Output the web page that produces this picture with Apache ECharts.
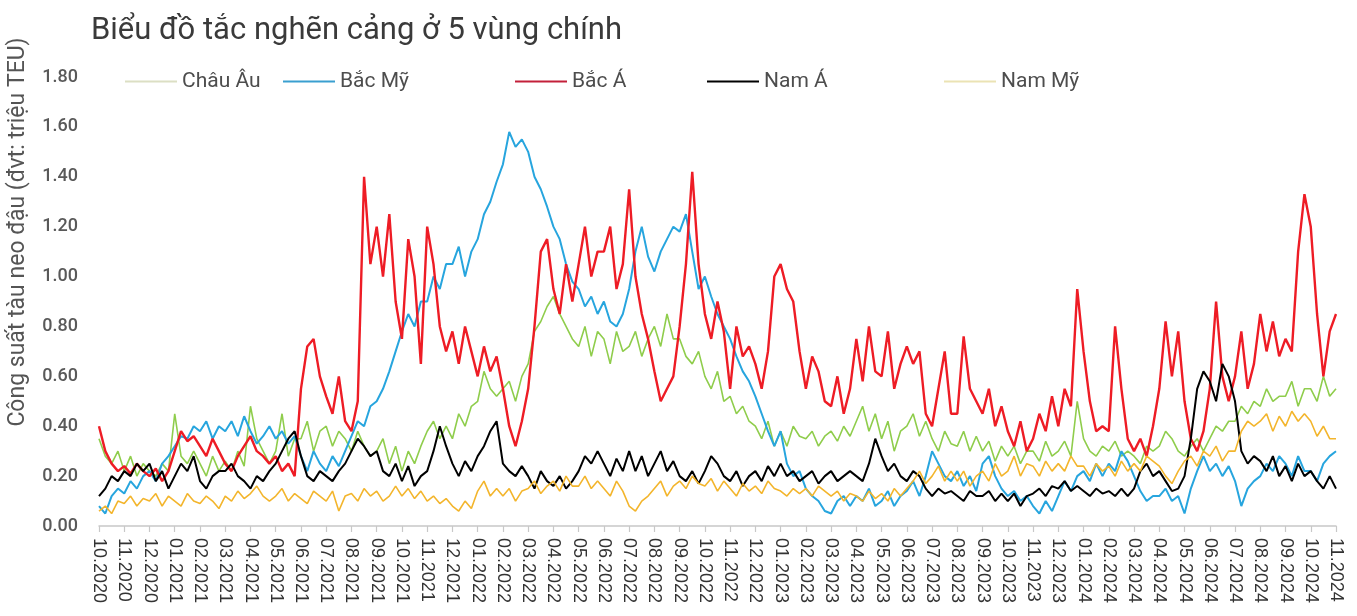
<!DOCTYPE html>
<html>
<head>
<meta charset="utf-8">
<script src="https://cdn.jsdelivr.net/npm/echarts@6/dist/echarts.min.js"></script>
<style>
  html, body { margin: 0; padding: 0; background: #fff; }
  #chart { width: 1357px; height: 616px; }
</style>
</head>
<body>
<div id="chart"></div>
<script>
// nhãn tháng trên trục hoành
const months = [
  '10.2020', '11.2020', '12.2020',
  '01.2021', '02.2021', '03.2021', '04.2021', '05.2021', '06.2021', '07.2021', '08.2021', '09.2021', '10.2021', '11.2021', '12.2021',
  '01.2022', '02.2022', '03.2022', '04.2022', '05.2022', '06.2022', '07.2022', '08.2022', '09.2022', '10.2022', '11.2022', '12.2022',
  '01.2023', '02.2023', '03.2023', '04.2023', '05.2023', '06.2023', '07.2023', '08.2023', '09.2023', '10.2023', '11.2023', '12.2023',
  '01.2024', '02.2024', '03.2024', '04.2024', '05.2024', '06.2024', '07.2024', '08.2024', '09.2024', '10.2024', '11.2024'
];
const pointsPerMonth = 4; // mỗi tháng 4 giá trị (theo tuần)

// triệu TEU
const chauAu = [
  0.35,0.28,0.25,0.30, 0.22,0.28,0.20,0.25, 0.22,0.20,0.25,0.22, 0.45,0.28,0.25,0.30,
  0.25,0.20,0.28,0.22, 0.26,0.22,0.30,0.24, 0.48,0.35,0.30,0.25, 0.30,0.45,0.28,0.35,
  0.35,0.42,0.30,0.38, 0.40,0.32,0.38,0.35, 0.30,0.38,0.32,0.28, 0.30,0.35,0.25,0.32,
  0.22,0.30,0.25,0.32, 0.38,0.42,0.35,0.40, 0.35,0.45,0.40,0.48, 0.50,0.62,0.55,0.52,
  0.55,0.58,0.50,0.60, 0.65,0.78,0.82,0.88, 0.92,0.85,0.80,0.75, 0.72,0.80,0.68,0.78,
  0.75,0.65,0.78,0.70, 0.72,0.78,0.68,0.75, 0.80,0.72,0.85,0.75, 0.75,0.68,0.65,0.70,
  0.60,0.55,0.62,0.50, 0.52,0.45,0.48,0.42, 0.40,0.35,0.42,0.32, 0.38,0.32,0.40,0.36,
  0.35,0.38,0.32,0.36, 0.38,0.34,0.40,0.36, 0.42,0.48,0.38,0.45, 0.35,0.42,0.30,0.38,
  0.40,0.45,0.36,0.42, 0.35,0.30,0.38,0.33, 0.32,0.38,0.30,0.36, 0.30,0.34,0.26,0.32,
  0.28,0.32,0.25,0.30, 0.30,0.26,0.34,0.28, 0.30,0.34,0.28,0.50, 0.35,0.30,0.28,0.32,
  0.30,0.34,0.28,0.30, 0.28,0.25,0.32,0.30, 0.32,0.38,0.35,0.30, 0.28,0.32,0.35,0.30,
  0.35,0.40,0.38,0.42, 0.42,0.48,0.45,0.50, 0.48,0.55,0.50,0.52, 0.52,0.58,0.48,0.55,
  0.55,0.50,0.60,0.52, 0.55
];
const bacMy = [
  0.08,0.05,0.12,0.15, 0.13,0.18,0.15,0.20, 0.22,0.18,0.25,0.28, 0.32,0.36,0.35,0.40,
  0.38,0.42,0.35,0.40, 0.38,0.42,0.36,0.44, 0.38,0.33,0.36,0.40, 0.35,0.38,0.33,0.36,
  0.28,0.22,0.30,0.25, 0.22,0.28,0.24,0.30, 0.36,0.42,0.40,0.48, 0.50,0.55,0.62,0.70,
  0.78,0.85,0.80,0.90, 0.90,1.00,0.95,1.05, 1.05,1.12,1.00,1.10, 1.15,1.25,1.30,1.38,
  1.45,1.58,1.52,1.55, 1.50,1.40,1.35,1.28, 1.20,1.15,1.05,0.98, 0.95,0.88,0.92,0.85,
  0.90,0.82,0.80,0.85, 0.95,1.10,1.20,1.08, 1.02,1.10,1.15,1.20, 1.18,1.25,1.10,0.95,
  1.00,0.92,0.85,0.80, 0.75,0.68,0.62,0.58, 0.52,0.45,0.38,0.32, 0.38,0.25,0.20,0.22,
  0.15,0.12,0.10,0.06, 0.05,0.10,0.12,0.08, 0.12,0.10,0.15,0.08, 0.10,0.14,0.08,0.12,
  0.14,0.18,0.12,0.20, 0.30,0.25,0.20,0.18, 0.22,0.16,0.20,0.14, 0.25,0.28,0.20,0.15,
  0.12,0.14,0.10,0.12, 0.08,0.05,0.10,0.06, 0.12,0.18,0.14,0.20, 0.22,0.18,0.25,0.20,
  0.25,0.22,0.30,0.26, 0.20,0.14,0.10,0.12, 0.12,0.15,0.10,0.12, 0.05,0.15,0.22,0.28,
  0.22,0.25,0.20,0.24, 0.18,0.08,0.15,0.18, 0.20,0.25,0.22,0.28, 0.25,0.20,0.28,0.22,
  0.22,0.18,0.25,0.28, 0.30
];
const bacA = [
  0.40,0.30,0.25,0.22, 0.24,0.21,0.25,0.22, 0.20,0.23,0.18,0.22, 0.30,0.38,0.34,0.36,
  0.32,0.28,0.35,0.30, 0.25,0.22,0.28,0.32, 0.36,0.30,0.28,0.25, 0.28,0.22,0.25,0.20,
  0.55,0.72,0.75,0.60, 0.52,0.45,0.60,0.42, 0.38,0.50,1.40,1.05, 1.20,1.00,1.25,0.90,
  0.75,1.15,1.00,0.65, 1.20,1.05,0.80,0.70, 0.78,0.65,0.80,0.70, 0.60,0.72,0.62,0.68,
  0.55,0.40,0.32,0.42, 0.55,0.80,1.10,1.15, 0.95,0.85,1.05,0.90, 1.05,1.20,1.00,1.10,
  1.10,1.20,0.95,1.05, 1.35,1.00,0.85,0.75, 0.62,0.50,0.55,0.60, 0.80,1.05,1.42,1.05,
  0.85,0.75,0.90,0.78, 0.55,0.80,0.68,0.72, 0.65,0.55,0.70,1.00, 1.05,0.95,0.90,0.70,
  0.55,0.68,0.62,0.50, 0.48,0.60,0.45,0.55, 0.75,0.58,0.80,0.62, 0.60,0.78,0.55,0.65,
  0.72,0.65,0.70,0.45, 0.40,0.55,0.70,0.45, 0.45,0.76,0.55,0.50, 0.45,0.55,0.40,0.48,
  0.38,0.32,0.42,0.30, 0.35,0.45,0.38,0.52, 0.40,0.55,0.48,0.95, 0.70,0.50,0.38,0.40,
  0.38,0.80,0.55,0.35, 0.30,0.35,0.28,0.40, 0.55,0.82,0.60,0.78, 0.50,0.35,0.30,0.38,
  0.55,0.90,0.60,0.50, 0.60,0.78,0.55,0.65, 0.85,0.70,0.82,0.68, 0.75,0.70,1.10,1.33,
  1.20,0.85,0.60,0.78, 0.85
];
const namA = [
  0.12,0.15,0.20,0.18, 0.22,0.20,0.25,0.22, 0.25,0.18,0.22,0.15, 0.20,0.25,0.22,0.28,
  0.18,0.15,0.20,0.22, 0.22,0.25,0.20,0.18, 0.15,0.20,0.18,0.22, 0.25,0.30,0.35,0.38,
  0.28,0.20,0.18,0.22, 0.20,0.18,0.22,0.25, 0.30,0.35,0.32,0.28, 0.30,0.22,0.20,0.25,
  0.18,0.24,0.16,0.20, 0.22,0.30,0.40,0.32, 0.25,0.20,0.26,0.22, 0.28,0.32,0.38,0.42,
  0.25,0.22,0.20,0.24, 0.20,0.15,0.22,0.18, 0.16,0.20,0.15,0.18, 0.22,0.28,0.25,0.30,
  0.25,0.20,0.27,0.22, 0.30,0.22,0.28,0.20, 0.25,0.30,0.22,0.26, 0.20,0.18,0.22,0.17,
  0.22,0.28,0.25,0.20, 0.18,0.22,0.16,0.20, 0.22,0.18,0.24,0.20, 0.25,0.20,0.22,0.18,
  0.20,0.22,0.17,0.20, 0.22,0.18,0.20,0.22, 0.20,0.18,0.25,0.35, 0.28,0.22,0.25,0.20,
  0.18,0.22,0.20,0.15, 0.12,0.15,0.13,0.14, 0.12,0.10,0.14,0.12, 0.12,0.14,0.10,0.13,
  0.10,0.13,0.08,0.12, 0.13,0.15,0.12,0.16, 0.15,0.18,0.14,0.16, 0.14,0.12,0.15,0.13,
  0.14,0.12,0.15,0.12, 0.15,0.22,0.25,0.20, 0.22,0.18,0.14,0.15, 0.20,0.35,0.55,0.62,
  0.58,0.50,0.65,0.60, 0.50,0.30,0.25,0.28, 0.26,0.22,0.28,0.20, 0.24,0.18,0.25,0.20,
  0.22,0.18,0.15,0.20, 0.15
];
const namMy = [
  0.06,0.08,0.05,0.10, 0.09,0.12,0.08,0.11, 0.10,0.13,0.08,0.12, 0.10,0.08,0.13,0.10,
  0.09,0.12,0.10,0.07, 0.12,0.10,0.14,0.11, 0.13,0.16,0.12,0.10, 0.12,0.15,0.10,0.13,
  0.11,0.09,0.14,0.12, 0.10,0.14,0.06,0.12, 0.13,0.10,0.15,0.12, 0.14,0.10,0.12,0.16,
  0.12,0.15,0.11,0.14, 0.10,0.12,0.09,0.11, 0.08,0.06,0.10,0.07, 0.14,0.18,0.12,0.15,
  0.12,0.15,0.10,0.14, 0.15,0.18,0.13,0.16, 0.18,0.14,0.20,0.16, 0.16,0.20,0.15,0.18,
  0.15,0.12,0.18,0.14, 0.08,0.06,0.10,0.12, 0.15,0.18,0.12,0.16, 0.18,0.15,0.20,0.17,
  0.16,0.19,0.14,0.18, 0.15,0.12,0.17,0.14, 0.16,0.13,0.18,0.15, 0.14,0.12,0.15,0.13,
  0.15,0.12,0.16,0.14, 0.12,0.14,0.10,0.13, 0.12,0.10,0.14,0.11, 0.13,0.10,0.15,0.12,
  0.15,0.18,0.22,0.17, 0.20,0.24,0.18,0.22, 0.18,0.22,0.16,0.20, 0.22,0.18,0.25,0.20,
  0.22,0.28,0.20,0.25, 0.24,0.20,0.26,0.22, 0.25,0.22,0.28,0.24, 0.24,0.20,0.25,0.22,
  0.24,0.20,0.26,0.22, 0.25,0.22,0.28,0.26, 0.24,0.20,0.17,0.22, 0.26,0.28,0.24,0.30,
  0.28,0.32,0.26,0.30, 0.30,0.38,0.42,0.40, 0.42,0.45,0.38,0.44, 0.40,0.46,0.42,0.45,
  0.42,0.36,0.40,0.35, 0.35
];

const fontFamily = 'Roboto, "Noto Sans", sans-serif';

function toPoints (values) {
  return values.map((v, i) => [i / pointsPerMonth, v]);
}

// [tên, màu đường, màu ký hiệu chú thích, độ dày, vị trí chú thích]
const seriesDefs = [
  ['Châu Âu', '#8fcd4c', '#dcdfc4', 1.6, 125],
  ['Bắc Mỹ', '#27a5de', '#3a9fd0', 2, 283],
  ['Bắc Á', '#ee1c25', '#c3203a', 2.4, 515],
  ['Nam Á', '#000000', '#000000', 2, 707],
  ['Nam Mỹ', '#f3b52c', '#ebe3b4', 1.6, 944],
];
const seriesValues = [chauAu, bacMy, bacA, namA, namMy];

const chart = echarts.init(document.getElementById('chart'));

const option = {
  animation: false,
  textStyle: { fontFamily: fontFamily },
  title: {
    text: 'Biểu đồ tắc nghẽn cảng ở 5 vùng chính',
    left: 86,
    top: 11,
    textStyle: { fontSize: 31, fontWeight: 'normal', color: '#3a3a3a', fontFamily: fontFamily },
  },
  legend: seriesDefs.map((d) => ({
    left: d[4],
    top: 71,
    padding: 0,
    itemWidth: 52,
    itemHeight: 2,
    itemGap: 0,
    icon: 'rect',
    textStyle: { fontSize: 21, color: '#4d4d4d', fontWeight: 'normal' },
    data: [{ name: d[0], itemStyle: { color: d[2] } }],
  })),
  graphic: [{
    type: 'text',
    x: 18,
    y: 232,
    rotation: Math.PI / 2,
    style: {
      text: 'Công suất tàu neo đậu (đvt: triệu TEU)',
      fontSize: 23,
      fontFamily: fontFamily,
      fill: '#555',
      align: 'center',
      verticalAlign: 'middle',
    },
  }],
  grid: { left: 99, right: 21, top: 77, bottom: 90 },
  xAxis: {
    type: 'value',
    min: 0,
    max: months.length - 1,
    interval: 1,
    splitLine: { show: false },
    axisLine: { show: true, lineStyle: { color: '#c8c8c8', width: 1.5 } },
    axisTick: { show: true, length: 6, lineStyle: { color: '#c8c8c8', width: 1.2 } },
    axisLabel: {
      rotate: -90,
      margin: 12,
      fontSize: 18,
      color: '#333',
      fontFamily: '"Liberation Sans", Arial, sans-serif',
      showMinLabel: true,
      showMaxLabel: true,
      hideOverlap: false,
      formatter: (v) => months[Math.round(v)] || '',
    },
  },
  yAxis: {
    type: 'value',
    min: 0,
    max: 1.8,
    interval: 0.2,
    splitLine: { show: false },
    axisLine: { show: false },
    axisTick: { show: false },
    axisLabel: {
      margin: 21,
      fontSize: 18,
      fontWeight: 500,
      color: '#595959',
      formatter: (v) => v.toFixed(2),
    },
  },
  series: seriesDefs.map((d, k) => ({
    name: d[0],
    type: 'line',
    data: toPoints(seriesValues[k]),
    showSymbol: false,
    symbol: 'none',
    lineStyle: { color: d[1], width: d[3] },
    itemStyle: { color: d[1] },
  })),
};

chart.setOption(option);
</script>
</body>
</html>
